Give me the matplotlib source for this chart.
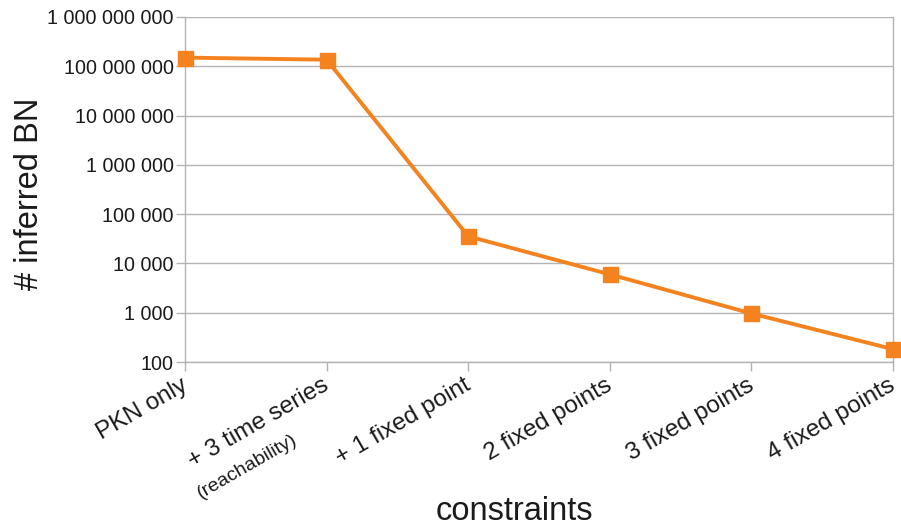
import matplotlib
matplotlib.use("Agg")
import matplotlib.pyplot as plt
from matplotlib.ticker import FixedLocator, FuncFormatter, NullLocator
from matplotlib.transforms import ScaledTranslation

categories = ["PKN only", "+ 3 time series", "+ 1 fixed point",
              "2 fixed points", "3 fixed points", "4 fixed points"]
values = [1.5e8, 1.36e8, 3.55e4, 6.0e3, 965, 182]
ytick_values = [1e2, 1e3, 1e4, 1e5, 1e6, 1e7, 1e8, 1e9]
sub_label = "(reachability)"

plt.rcParams['font.family'] = ['Liberation Sans', 'DejaVu Sans']

W, H = 901, 526
fig = plt.figure(figsize=(W/100, H/100), dpi=100)
ax = fig.add_axes([185/W, 1-362/H, (893-185)/W, (362-17)/H])

color = '#f4831f'
grid_c = '#b3b3b3'
txt_c = '#1a1a1a'
x = list(range(len(categories)))
ax.plot(x, values, color=color, lw=2.8, marker='s', markersize=10.8, clip_on=False, zorder=3)

ax.set_yscale('log')
ax.set_ylim(1e2, 1e9)
ax.set_xlim(0, len(categories)-1)
ax.yaxis.set_major_locator(FixedLocator(ytick_values))
ax.yaxis.set_minor_locator(NullLocator())
ax.yaxis.set_major_formatter(FuncFormatter(lambda v, p: f"{int(round(v)):,}".replace(",", " ")))
ax.grid(axis='y', color=grid_c, lw=1)
ax.set_axisbelow(True)

for s in ['left', 'right', 'bottom']:
    ax.spines[s].set_color(grid_c)
    ax.spines[s].set_linewidth(1)
ax.spines['top'].set_visible(False)

ax.tick_params(axis='y', colors=grid_c, length=6.7, width=1, labelsize=14.2, labelcolor=txt_c, pad=1.5)
ax.tick_params(axis='x', colors=grid_c, length=6.7, width=1, labelsize=17.5, labelcolor=txt_c, pad=2)
ax.set_xticks(x)
ax.set_xticklabels(categories, rotation=30, ha='right', rotation_mode='anchor')
shift = ScaledTranslation(-0.05, 0, fig.dpi_scale_trans)
for lab in ax.get_xticklabels():
    lab.set_transform(lab.get_transform() + shift)

ax.annotate(sub_label, xy=(1, 0), xycoords=('data', 'axes fraction'),
            xytext=(-25, -50), textcoords='offset points', rotation=30,
            ha='right', va='top', rotation_mode='anchor', fontsize=14, color=txt_c)

fig.text(30/W, 1-194/H, "# inferred BN", fontsize=23.5, color=txt_c,
         rotation=90, ha='center', va='center')
fig.text(514/W, 1-520/H, "constraints", fontsize=23.5, color=txt_c,
         ha='center', va='baseline')

fig.savefig("out.png", dpi=100)
